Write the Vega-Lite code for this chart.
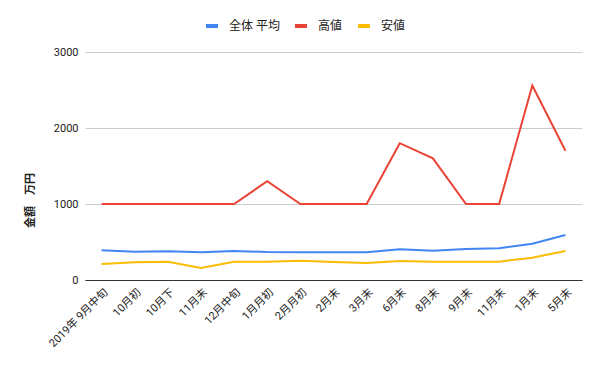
{
  "$schema": "https://vega.github.io/schema/vega-lite/v6.json",
  "width": 497,
  "height": 228,
  "autosize": "none",
  "padding": {"left": 85, "top": 52, "right": 18, "bottom": 91},
  "background": "white",
  "config": {
    "font": "Roboto, Noto Sans CJK JP",
    "view": {"stroke": null}
  },
  "data": {
    "values": [
      {"period": "2019年 9月中旬", "series": "全体 平均", "value": 390},
      {"period": "10月初", "series": "全体 平均", "value": 373},
      {"period": "10月下", "series": "全体 平均", "value": 377},
      {"period": "11月末", "series": "全体 平均", "value": 364},
      {"period": "12月中旬", "series": "全体 平均", "value": 382},
      {"period": "1月月初", "series": "全体 平均", "value": 368},
      {"period": "2月月初", "series": "全体 平均", "value": 364},
      {"period": "2月末", "series": "全体 平均", "value": 364},
      {"period": "3月末", "series": "全体 平均", "value": 364},
      {"period": "6月末", "series": "全体 平均", "value": 404},
      {"period": "8月末", "series": "全体 平均", "value": 386},
      {"period": "9月末", "series": "全体 平均", "value": 408},
      {"period": "11月末\u200b", "series": "全体 平均", "value": 417},
      {"period": "1月末", "series": "全体 平均", "value": 478},
      {"period": "5月末", "series": "全体 平均", "value": 592},
      {"period": "2019年 9月中旬", "series": "高値", "value": 1000},
      {"period": "10月初", "series": "高値", "value": 1000},
      {"period": "10月下", "series": "高値", "value": 1000},
      {"period": "11月末", "series": "高値", "value": 1000},
      {"period": "12月中旬", "series": "高値", "value": 1000},
      {"period": "1月月初", "series": "高値", "value": 1300},
      {"period": "2月月初", "series": "高値", "value": 1000},
      {"period": "2月末", "series": "高値", "value": 1000},
      {"period": "3月末", "series": "高値", "value": 1000},
      {"period": "6月末", "series": "高値", "value": 1800},
      {"period": "8月末", "series": "高値", "value": 1600},
      {"period": "9月末", "series": "高値", "value": 1000},
      {"period": "11月末\u200b", "series": "高値", "value": 1000},
      {"period": "1月末", "series": "高値", "value": 2560},
      {"period": "5月末", "series": "高値", "value": 1700},
      {"period": "2019年 9月中旬", "series": "安値", "value": 211},
      {"period": "10月初", "series": "安値", "value": 232},
      {"period": "10月下", "series": "安値", "value": 241},
      {"period": "11月末", "series": "安値", "value": 158},
      {"period": "12月中旬", "series": "安値", "value": 241},
      {"period": "1月月初", "series": "安値", "value": 241},
      {"period": "2月月初", "series": "安値", "value": 254},
      {"period": "2月末", "series": "安値", "value": 237},
      {"period": "3月末", "series": "安値", "value": 224},
      {"period": "6月末", "series": "安値", "value": 250},
      {"period": "8月末", "series": "安値", "value": 241},
      {"period": "9月末", "series": "安値", "value": 241},
      {"period": "11月末\u200b", "series": "安値", "value": 241},
      {"period": "1月末", "series": "安値", "value": 294},
      {"period": "5月末", "series": "安値", "value": 382}
    ]
  },
  "mark": {"type": "line", "strokeWidth": 2},
  "encoding": {
    "x": {
      "field": "period",
      "type": "ordinal",
      "sort": null,
      "scale": {"type": "point", "padding": 0.5},
      "axis": {
        "title": null,
        "labelAngle": -45,
        "labelAlign": "right",
        "labelBaseline": "top",
        "labelFontSize": 11,
        "labelColor": "#222222",
        "labelPadding": 6,
        "ticks": false,
        "domainColor": "#333333",
        "domainWidth": 1,
        "grid": false
      }
    },
    "y": {
      "field": "value",
      "type": "quantitative",
      "scale": {"domain": [0, 3000], "nice": false},
      "axis": {
        "values": [0, 1000, 2000, 3000],
        "format": "d",
        "title": "金額　万円",
        "titleFontSize": 11,
        "titleFontWeight": "bold",
        "titleColor": "#222222",
        "titleAngle": -90,
        "titleAlign": "center",
        "titleBaseline": "middle",
        "titleX": -55,
        "titleY": 148,
        "labelFontSize": 11,
        "labelColor": "#222222",
        "labelPadding": 7,
        "ticks": false,
        "domain": false,
        "gridColor": "#cccccc",
        "grid": true
      }
    },
    "color": {
      "field": "series",
      "type": "nominal",
      "sort": ["全体 平均", "高値", "安値"],
      "scale": {"domain": ["全体 平均", "高値", "安値"], "range": ["#4285F4", "#EA4335", "#FBBC04"]},
      "legend": {
        "title": null,
        "orient": "none",
        "direction": "horizontal",
        "legendX": 119,
        "legendY": -34,
        "symbolType": "stroke",
        "symbolSize": 144,
        "symbolStrokeWidth": 4,
        "labelFontSize": 12,
        "labelColor": "#222222",
        "labelOffset": 9,
        "columnPadding": 7
      }
    }
  }
}
